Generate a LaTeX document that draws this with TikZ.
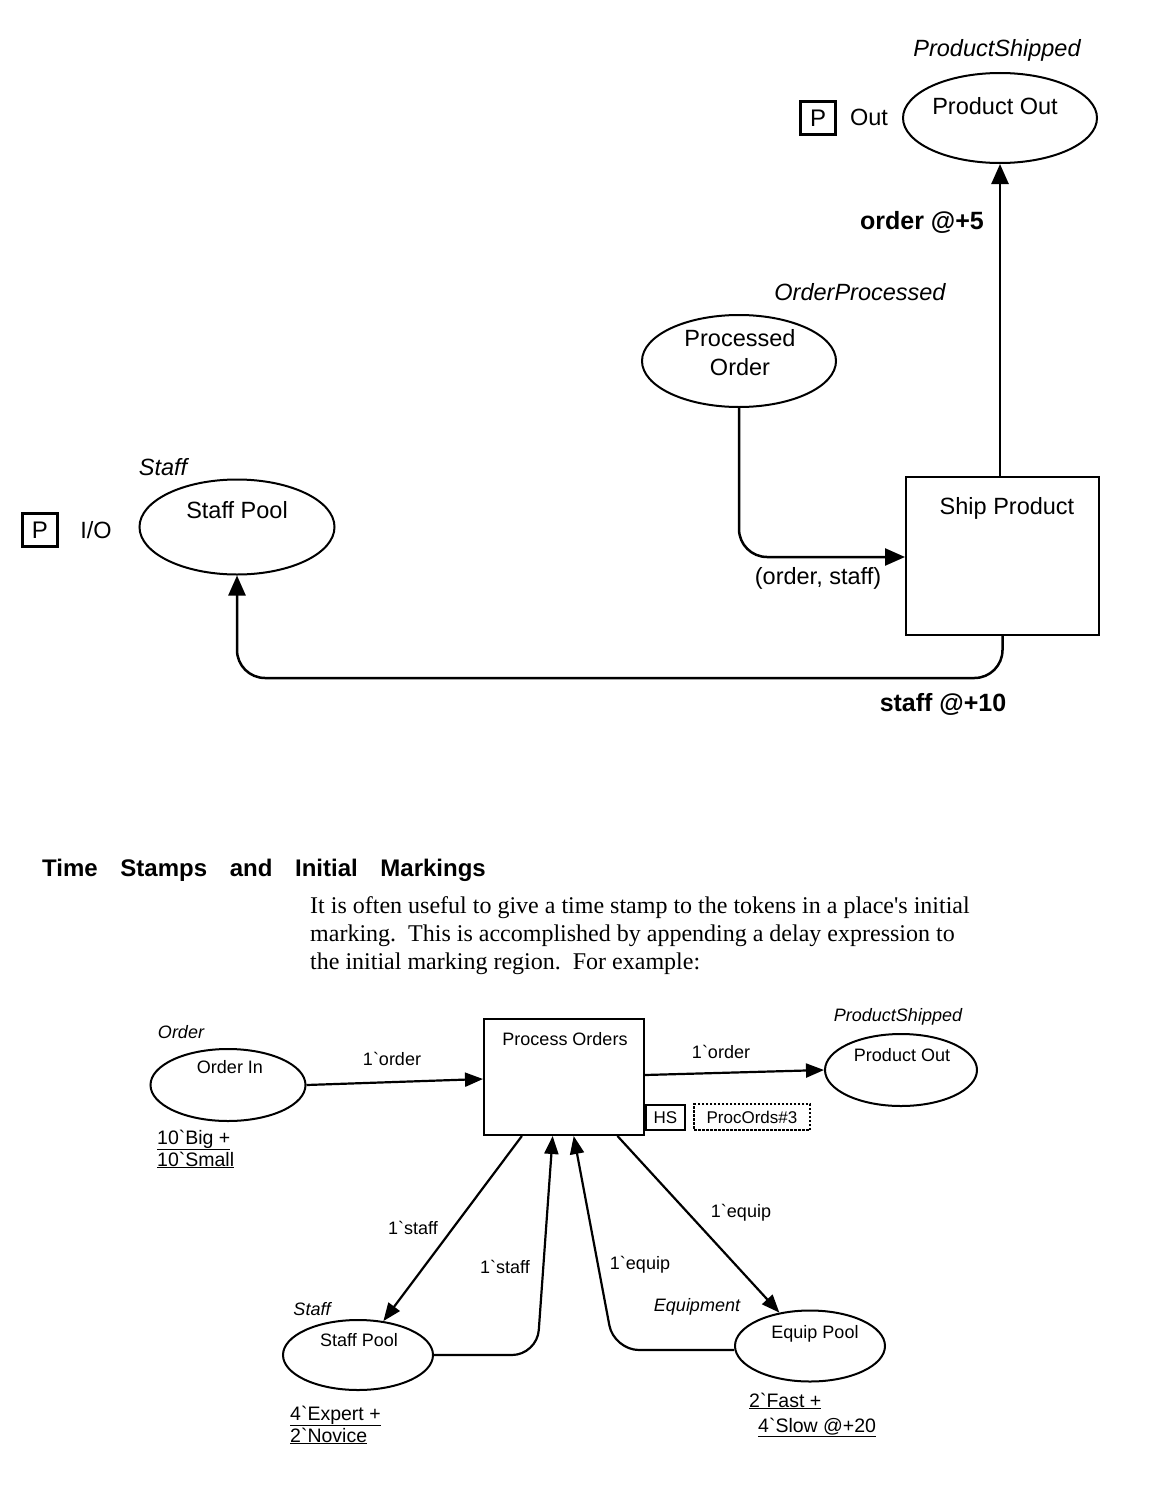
\documentclass[tikz,border=0pt]{standalone}
\usepackage{fontspec}
\setmainfont{Liberation Sans}[Ligatures=TeXOff]
\newfontfamily\parafont{Liberation Serif}
\usetikzlibrary{shapes.geometric,arrows.meta,calc}
\tikzset{
  place/.style={ellipse, draw, line width=2pt, inner sep=0pt},
  trans/.style={rectangle, draw, line width=2pt, inner sep=0pt},
  bigarc/.style={line width=2.5pt, -{Triangle[length=20pt,width=17pt]}},
  smallarc/.style={line width=2.2pt, -{Triangle[length=18pt,width=14pt]}},
  bigtxt/.style={inner sep=0pt, font=\fontsize{23.5}{28}\selectfont},
  bigit/.style={inner sep=0pt, font=\fontsize{23.5}{28}\selectfont\itshape},
  bigbold/.style={inner sep=0pt, font=\fontsize{25}{30}\selectfont\bfseries},
  smalltxt/.style={inner sep=0pt, font=\fontsize{18}{22}\selectfont},
  smallit/.style={inner sep=0pt, font=\fontsize{18}{22}\selectfont\itshape},
  marking/.style={inner sep=0pt, anchor=base west, font=\fontsize{19.5}{23}\selectfont},
  paraline/.style={inner sep=0pt, anchor=base west, font=\fontsize{24}{28}\selectfont\parafont},
  pbox/.style={draw, line width=2.2pt, minimum width=35pt, minimum height=33pt, inner sep=0pt, font=\fontsize{24}{28}\selectfont},
}
\begin{document}
\begin{tikzpicture}[x=1pt,y=-1pt]
\useasboundingbox (0,0) rectangle (1150,1488);

% ---------- top net ----------
\node[place, minimum width=194pt, minimum height=90pt] (pout) at (1000,118) {};
\node[bigtxt] (poutt) at (995,106) {Product Out};
\node[bigit] (psh) at (997,50) {ProductShipped};
\node[pbox] (pb1) at (818,118) {P};
\node[bigtxt] (outt) at (869,117) {Out};

\node[place, minimum width=194pt, minimum height=92pt] (porder) at (739,361) {};
\node[bigtxt] (porder1) at (740,338) {Processed};
\node[bigtxt] (porder2) at (740,367) {Order};
\node[bigit] (oproc) at (860,292) {OrderProcessed};

\node[trans, minimum width=193pt, minimum height=158pt] (ship) at (1002.5,556) {};
\node[bigtxt] (shipt) at (1007,508) {Ship Product};

\node[place, minimum width=195pt, minimum height=95pt] (sp) at (237,527) {};
\node[bigtxt] (spt) at (237,510) {Staff Pool};
\node[bigit] (stf) at (163,467) {Staff};
\node[pbox] (pb2) at (40,530) {P};
\node[bigtxt] (iot) at (96,530) {I/O};

\coordinate (k1) at (739,557);
\coordinate (k2) at (1002.5,678);

\draw[bigarc] (pout.south |- ship.north) -- (pout.south);
\node[bigbold] (l1) at (922,222) {order @+5};

\draw[bigarc, rounded corners=28pt] (porder.south) |- (ship.west |- k1);
\node[bigtxt] (l2) at (818,578) {(order, staff)};

\draw[bigarc, rounded corners=28pt] (ship.south) |- (sp.south |- k2) -- (sp.south);
\node[bigbold] (l3) at (943,704) {staff @+10};

% ---------- heading and paragraph ----------
\node[inner sep=0pt, anchor=base west, font=\fontsize{24}{28}\selectfont\bfseries] (head) at (42,876)
  {Time\hspace{16pt} Stamps\hspace{16pt} and\hspace{16pt} Initial\hspace{16pt} Markings};
\node[paraline] (pl1) at (310,913) {It is often useful to give a time stamp to the tokens in a place's initial};
\node[paraline] (pl2) at (310,941) {marking.\ \ This is accomplished by appending a delay expression to};
\node[paraline] (pl3) at (310,969) {the initial marking region.\ \ For example:};

% ---------- bottom net ----------
\node[place, minimum width=155pt, minimum height=72pt] (oin) at (228,1085) {};
\node[smalltxt] (oint) at (230,1067) {Order In};
\node[smallit] (ordl) at (181,1032) {Order};
\node[marking] (m1) at (157,1144) {\underline{10`Big +}};
\node[marking] (m2) at (157,1166) {\underline{10`Small}};

\node[trans, minimum width=160pt, minimum height=116pt] (pord) at (564,1077) {};
\node[smalltxt] (pordt) at (565,1039) {Process Orders};
\node[draw, line width=1.6pt, minimum width=39pt, minimum height=25pt, inner sep=0pt, font=\fontsize{17}{20}\selectfont] (hs) at (665.5,1117.5) {HS};
\node[draw, line width=1.4pt, dash pattern=on 2.5pt off 1.5pt, minimum width=116pt, minimum height=26pt, inner sep=0pt, font=\fontsize{17}{20}\selectfont] (pords) at (752,1117) {ProcOrds\#3};

\node[place, minimum width=152pt, minimum height=72pt] (pout2) at (901,1070) {};
\node[smalltxt] (pout2t) at (902,1055) {Product Out};
\node[smallit] (psh2) at (898,1017) {ProductShipped};

\node[place, minimum width=150pt, minimum height=70pt] (spb) at (358,1355) {};
\node[smalltxt] (spbt) at (359,1340) {Staff Pool};
\node[smallit] (stf2) at (312,1309) {Staff};
\node[marking] (m3) at (290,1420) {\underline{4`Expert +}};
\node[marking] (m4) at (290,1442) {\underline{2`Novice}};

\node[place, minimum width=150pt, minimum height=71pt] (eqp) at (810,1346) {};
\node[smalltxt] (eqpt) at (815,1334) {Equip Pool};
\node[smallit] (eqpl) at (697,1307) {Equipment};
\node[marking] (m5) at (749,1407) {\underline{2`Fast +}};
\node[marking] (m6) at (758,1432) {\underline{4`Slow @+20}};

\draw[smallarc] (oin.east) -- (pord.west |- 0,1079);
\node[smalltxt] (a1) at (392,1059) {1`order};
\draw[smallarc] (pord.east |- 0,1075) -- (pout2.west);
\node[smalltxt] (a2) at (721,1052) {1`order};

\draw[smallarc] ($(pord.south west)!0.24!(pord.south east)$) -- (spb);
\node[smalltxt] (a3) at (413,1228) {1`staff};
\draw[smallarc, rounded corners=25pt] (spb.east) -- (537,1355) -- ($(pord.south west)!0.43!(pord.south east)$);
\node[smalltxt] (a4) at (505,1267) {1`staff};
\draw[smallarc, rounded corners=25pt] (eqp.west |- 0,1350) -- (614,1350) -- ($(pord.south west)!0.56!(pord.south east)$);
\node[smalltxt] (a5) at (640,1265) {1`equip};
\draw[smallarc] ($(pord.south west)!0.83!(pord.south east)$) -- (eqp);
\node[smalltxt] (a6) at (741,1213) {1`equip};
\end{tikzpicture}
\end{document}
